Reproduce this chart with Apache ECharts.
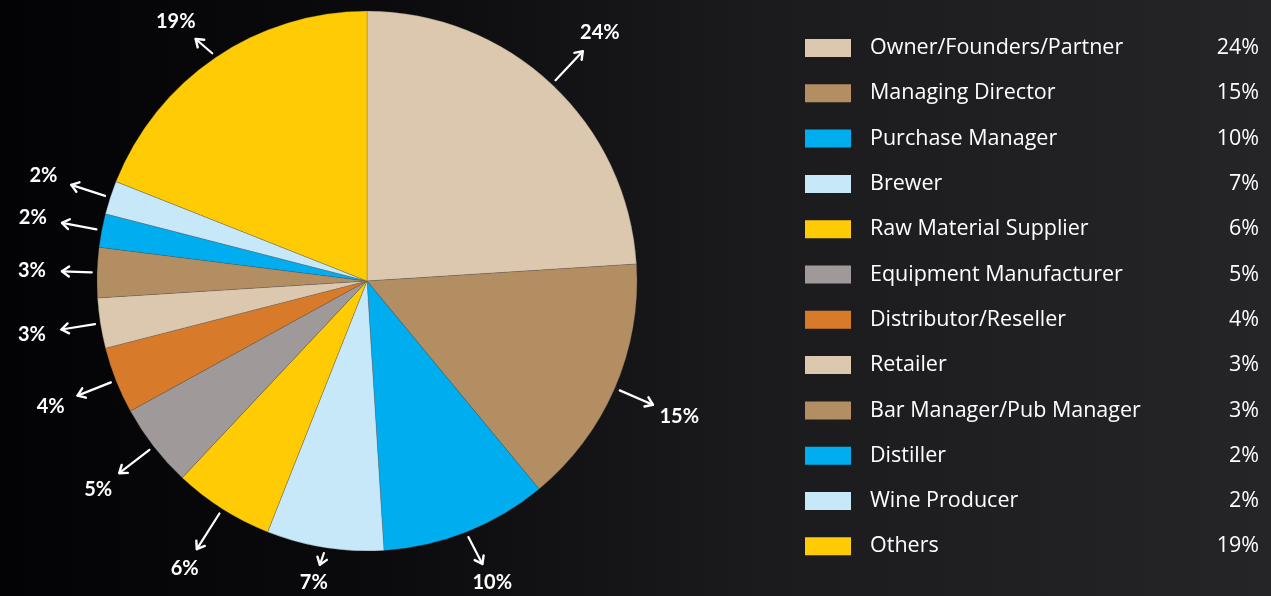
<!DOCTYPE html>
<html>
<head>
<meta charset="utf-8">
<script src="https://cdn.jsdelivr.net/npm/echarts@6/dist/echarts.min.js"></script>
<style>
html,body{margin:0;padding:0;background:#111;}
#main{width:1271px;height:596px;}
</style>
</head>
<body>
<div id="main"></div>
<script>
const categories = ['Owner/Founders/Partner','Managing Director','Purchase Manager','Brewer','Raw Material Supplier','Equipment Manufacturer','Distributor/Reseller','Retailer','Bar Manager/Pub Manager','Distiller','Wine Producer','Others'];
const values = [24,15,10,7,6,5,4,3,3,2,2,19];
const colors = ['#DCC8AE','#B38E63','#00AEEF','#C7E8F8','#FFCB05','#9F9A99','#D77B2A','#DCC8AE','#B38E63','#00AEEF','#C7E8F8','#FFCB05'];

const total = values.reduce((a,b)=>a+b,0);
const mids = [];
let cum = 0;
values.forEach(v => { mids.push((cum + v/2) / total * 100); cum += v; });

const chart = echarts.init(document.getElementById('main'));
const valueByName = {};
categories.forEach((c,i)=> valueByName[c] = values[i]);

const CENTER = [367, 281];
const RADIUS = 270;
const labelFont = 'bold 20px Lato, "DejaVu Sans", sans-serif';
const legendFont = '"Open Sans", "Noto Sans", sans-serif';

chart.setOption({
  backgroundColor: {
    type: 'linear', x: 0, y: 0, x2: 1, y2: 0,
    colorStops: [
      {offset: 0, color: '#030305'},
      {offset: 0.3, color: '#0b0b0d'},
      {offset: 0.6, color: '#1b1b1d'},
      {offset: 1, color: '#252527'}
    ]
  },
  color: colors,
  legend: {
    orient: 'vertical',
    left: 805,
    top: 37,
    padding: 0,
    itemWidth: 46,
    itemHeight: 18,
    itemGap: 23.3,
    icon: 'rect',
    itemStyle: {borderWidth: 0},
    selectedMode: false,
    data: categories,
    formatter: name => `{n|${name}}{v|${valueByName[name]}%}`,
    textStyle: {
      color: '#fff',
      padding: [0,0,0,14],
      lineHeight: 20,
      rich: {
        n: {width: 329, color: '#fff', fontSize: 21.5, fontFamily: legendFont, lineHeight: 20},
        v: {width: 60, align: 'right', color: '#fff', fontSize: 21.5, fontFamily: legendFont, lineHeight: 20}
      }
    }
  },
  polar: { center: CENTER, radius: RADIUS },
  angleAxis: { type: 'value', min: 0, max: 100, startAngle: 90, clockwise: true, show: false },
  radiusAxis: { type: 'value', min: 0, max: 1, show: false },
  series: [
    {
      type: 'pie',
      center: CENTER,
      radius: [0, RADIUS],
      startAngle: 90,
      clockwise: true,
      label: {show: false},
      labelLine: {show: false},
      emphasis: {disabled: true},
      itemStyle: {borderColor: 'rgba(90,90,90,0.6)', borderWidth: 0.5},
      data: categories.map((c,i)=>({name: c, value: values[i]}))
    },
    {
      type: 'custom',
      coordinateSystem: 'polar',
      silent: true,
      z: 5,
      data: mids.map((m,i)=>[1, m, values[i]]),
      renderItem: function(params, api) {
        const a = api.value(1);
        const pct = api.value(2);
        const p0 = api.coord([1.02, a]);
        const far = api.coord([1.26, a]);
        let lx = far[0], ly = far[1];
        if (ly < 22) ly = 22;
        if (ly > 583) ly = 583;
        if (lx < 32) lx = 32;
        const dx = lx-p0[0], dy = ly-p0[1];
        const len = Math.sqrt(dx*dx+dy*dy);
        const ux = dx/len, uy = dy/len;
        const gap = 14 + 16*Math.abs(ux);
        const p1 = [lx - ux*gap, ly - uy*gap];
        const nx = -uy, ny = ux;
        const hl = 7, hw = 5;
        return {
          type: 'group',
          children: [
            {type: 'line', shape: {x1: p0[0], y1: p0[1], x2: p1[0], y2: p1[1]},
             style: {stroke: '#fff', lineWidth: 2.2, lineCap: 'round'}},
            {type: 'polyline', shape: {points: [
              [p1[0]-ux*hl+nx*hw, p1[1]-uy*hl+ny*hw],
              [p1[0], p1[1]],
              [p1[0]-ux*hl-nx*hw, p1[1]-uy*hl-ny*hw]
            ]}, style: {stroke: '#fff', lineWidth: 2.4, fill: null, lineCap: 'round', lineJoin: 'round'}},
            {type: 'text', x: lx, y: ly,
             style: {text: pct + '%', fill: '#fff', font: labelFont, align: 'center', verticalAlign: 'middle'}}
          ]
        };
      }
    }
  ]
});
</script>
</body>
</html>
